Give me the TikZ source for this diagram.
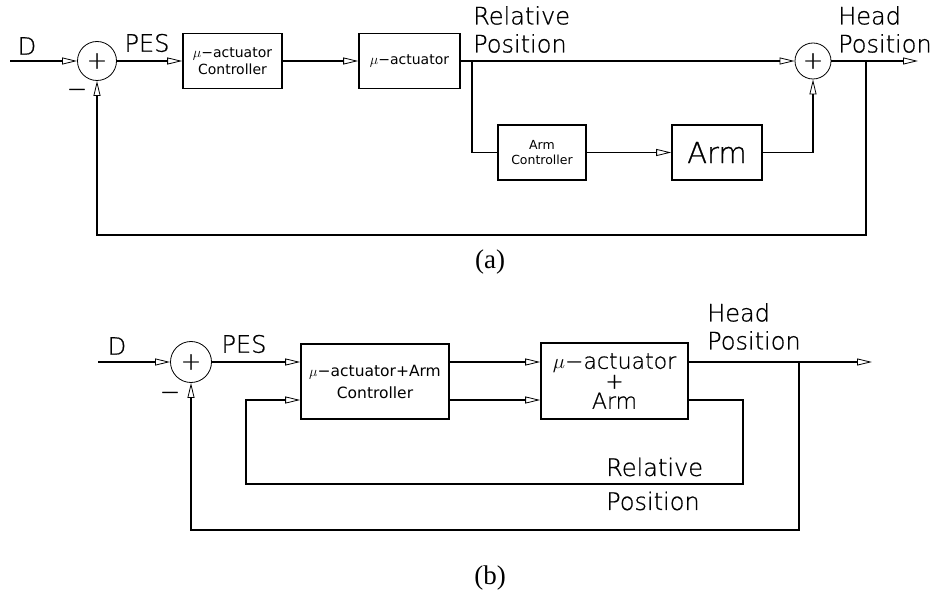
\documentclass[tikz,border=0pt]{standalone}
\usepackage{fontspec}
\usetikzlibrary{arrows.meta}
\newfontfamily\cadfont[FakeBold=0.8]{DejaVu Sans ExtraLight}
\newfontfamily\smallfont{DejaVu Sans}
\newfontfamily\capfont{Liberation Serif}
\begin{document}
\begin{tikzpicture}[x=1pt,y=-1pt,
  conn/.style={line width=1.6pt},
  arr/.style={line width=1.6pt,-{Triangle[open,length=15pt,width=7pt,line width=0.8pt]}},
  blk/.style={draw,line width=1.6pt,inner sep=0pt,align=center},
  sumnode/.style={draw,circle,line width=0.8pt,inner sep=0pt,font=\cadfont\fontsize{24}{24}\selectfont},
  lbl/.style={inner sep=0pt,font=\cadfont\fontsize{24}{28}\selectfont,align=left},
  captext/.style={inner sep=0pt,font=\capfont\fontsize{27}{30}\selectfont}]
\useasboundingbox (0,0) rectangle (943,596);
% ---------------- (a) ----------------
\coordinate (inA) at (10,61);
\node[sumnode,minimum size=39pt] (sA) at (97,61) {+};
\node[blk,minimum width=99pt,minimum height=55pt,font=\smallfont\fontsize{14}{17}\selectfont] (c1) at (232.5,61) {$\mu$−actuator\\Controller};
\node[blk,minimum width=101pt,minimum height=55pt,font=\smallfont\fontsize{14}{17}\selectfont] (act) at (409.5,61) {$\mu$−actuator};
\node[blk,minimum width=88pt,minimum height=55pt,font=\smallfont\fontsize{12.5}{15}\selectfont] (armc) at (542,152.5) {Arm\\Controller};
\node[blk,minimum width=90pt,minimum height=55pt,font=\cadfont\fontsize{29}{29}\selectfont] (arm) at (717,152.5) {Arm};
\node[sumnode,minimum size=36pt] (sB) at (813,61) {+};
\coordinate (brA) at (472,61);
\coordinate (outA) at (918,61);
\coordinate (brH) at (866,61);
\coordinate (fbA) at (866,235);
\node[lbl] (dA) at (27,46) {D};
\node[lbl] (pesA) at (147,43) {PES};
\node[lbl] (mA) at (77,93) {−};
\node[lbl,anchor=north west] (relA) at (473,6) {Relative\\Position};
\node[lbl,anchor=north west] (headA) at (838,6) {Head\\Position};
\node[captext] (capA) at (490,262) {(a)};
\draw[arr] (inA) -- (sA.west);
\draw[arr] (sA.east) -- (c1.west);
\draw[arr] (c1.east) -- (act.west);
\draw[arr] (act.east) -- (sB.west);
\draw[conn] (brA) |- (armc.west);
\draw[arr] (armc.east) -- (arm.west);
\draw[arr] (arm.east) -| (sB.south);
\draw[arr] (sB.east) -- (outA);
\draw[arr] (brH) -- (fbA) -| (sA.south);
% ---------------- (b) ----------------
\coordinate (inB) at (98,362);
\node[sumnode,minimum size=41pt] (sC) at (191,362) {+};
\node[blk,minimum width=148pt,minimum height=75pt,font=\smallfont\fontsize{15.5}{22}\selectfont] (ctl) at (375,381.5) {$\mu$−actuator+Arm\\Controller};
\node[blk,minimum width=147pt,minimum height=76pt,font=\cadfont\fontsize{22}{20}\selectfont] (plant) at (614.5,381) {$\mu$−actuator\\+\\Arm};
\coordinate (hiR) at (0,362);
\coordinate (loR) at (0,400);
\coordinate (outB) at (872,362);
\coordinate (brB) at (799,362);
\coordinate (fbB) at (799,530);
\coordinate (rp1) at (743,400);
\coordinate (rp2) at (743,484);
\coordinate (rp3) at (246,484);
\coordinate (rp4) at (246,400);
\node[lbl] (dB) at (117,346) {D};
\node[lbl] (pesB) at (244,344) {PES};
\node[lbl] (mB) at (170,396) {−};
\node[lbl,anchor=north west] (headB) at (707,303) {Head\\Position};
\node[lbl,anchor=west] (relB) at (606,467) {Relative};
\node[lbl,anchor=west] (posB) at (606,501) {Position};
\node[captext] (capB) at (490,578) {(b)};
\draw[arr] (inB) -- (sC.west);
\draw[arr] (sC.east) -- (ctl.west |- sC);
\draw[arr] (ctl.east |- hiR) -- (plant.west |- hiR);
\draw[arr] (ctl.east |- loR) -- (plant.west |- loR);
\draw[arr] (plant.east |- hiR) -- (outB);
\draw[arr] (brB) -- (fbB) -| (sC.south);
\draw[arr] (plant.east |- loR) -- (rp1) -- (rp2) -- (rp3) -- (rp4) -- (ctl.west |- loR);
\end{tikzpicture}
\end{document}
